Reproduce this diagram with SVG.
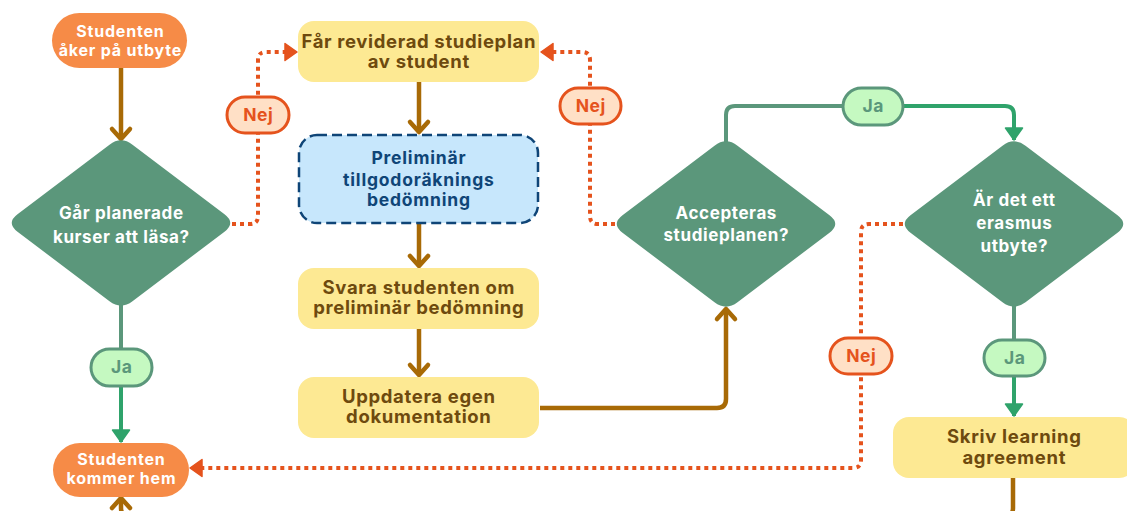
<svg xmlns="http://www.w3.org/2000/svg" width="1127" height="511" viewBox="0 0 1127 511">
<style>
text{font-family:Inter,"Liberation Sans",sans-serif;font-weight:700;text-anchor:middle}
.pill{fill:#F68B47}
.pillt{fill:#fff;font-size:16px;letter-spacing:0.8px}
.dia{fill:#5B977B}
.diat{fill:#fff;font-size:17px;letter-spacing:0.6px}
.box{fill:#FDE993}
.boxt{fill:#6E4A0E;font-size:18.5px;letter-spacing:0.65px}
.blue{fill:#C7E7FC;stroke:#0F4577;stroke-width:2.5;stroke-dasharray:10 5}
.bluet{fill:#0F4577;font-size:17.5px;letter-spacing:0.8px}
.nej{fill:#FFE0C6;stroke:#E5531D;stroke-width:3}
.nejt{fill:#E5531D;font-size:17.5px;letter-spacing:0.5px}
.ja{fill:#C5F9C1;stroke:#5B977B;stroke-width:3}
.jat{fill:#5B977B;font-size:17.5px;letter-spacing:0.5px}
.brown{fill:none;stroke:#A86A06;stroke-width:4.5}
.dot{fill:none;stroke:#E5531D;stroke-width:4;stroke-dasharray:4 4}
.gdark{fill:none;stroke:#5B977B;stroke-width:4}
.gbright{fill:none;stroke:#2FA36B;stroke-width:4}
</style>
<defs>
<marker id="chev" markerUnits="userSpaceOnUse" markerWidth="30" markerHeight="30" viewBox="-15 -15 30 30" refX="0" refY="0" orient="auto">
<path d="M-10,-9 L0,0 L-10,9" fill="none" stroke="#A86A06" stroke-width="4.5" stroke-linecap="round" stroke-linejoin="round"/>
</marker>
<marker id="tri-g" markerUnits="userSpaceOnUse" markerWidth="30" markerHeight="30" viewBox="-15 -15 30 30" refX="0" refY="0" orient="auto">
<path d="M-12,-8.5 L0,0 L-12,8.5 Z" fill="#2FA36B" stroke="#2FA36B" stroke-width="1.5" stroke-linejoin="round"/>
</marker>
<marker id="tri-o" markerUnits="userSpaceOnUse" markerWidth="30" markerHeight="30" viewBox="-15 -15 30 30" refX="0" refY="0" orient="auto">
<path d="M-12,-8.5 L0,0 L-12,8.5 Z" fill="#E5531D" stroke="#E5531D" stroke-width="1.5" stroke-linejoin="round"/>
</marker>
</defs>

<g id="connectors">
<path class="brown" d="M121,68 V139" marker-end="url(#chev)"/>
<path class="dot" d="M232,224 H250 Q258,224 258,216 V60 Q258,52 266,52 H297" marker-end="url(#tri-o)"/>
<path class="brown" d="M419,82 V132" marker-end="url(#chev)"/>
<path class="brown" d="M419,224 V266" marker-end="url(#chev)"/>
<path class="brown" d="M419,329 V375" marker-end="url(#chev)"/>
<path class="brown" d="M540,408 H717 Q726,408 726,399 V309" marker-end="url(#chev)"/>
<path class="dot" d="M615,224 H598 Q590,224 590,216 V60 Q590,52 582,52 H541" marker-end="url(#tri-o)"/>
<path class="gdark" d="M726,142 V115 Q726,106 735,106 H845"/>
<path class="gbright" d="M903,106 H1005 Q1014,106 1014,115 V140" marker-end="url(#tri-g)"/>
<path class="gdark" d="M1014,306 V340"/>
<path class="gbright" d="M1014,375 V416" marker-end="url(#tri-g)"/>
<path class="gdark" d="M121,304 V350"/>
<path class="gbright" d="M121,385 V442" marker-end="url(#tri-g)"/>
<path class="dot" d="M903,224 H869 Q861,224 861,232 V460 Q861,468 853,468 H190" marker-end="url(#tri-o)"/>
<path class="brown" d="M1013,478 V508 Q1013,516 1005,516 H129 Q121,516 121,508 V498" marker-end="url(#chev)"/>
</g>

<g id="start">
<rect class="pill" x="52" y="13" width="135" height="55" rx="27.5"/>
<text class="pillt" x="120.4" y="37">Studenten</text>
<text class="pillt" x="120.4" y="56">åker på utbyte</text>
</g>

<g id="q-kurser">
<path class="dia" d="M109.5,144.7 Q121,136 132.5,144.7 L224.5,214.3 Q236,223 224.5,231.7 L132.5,301.3 Q121,310 109.5,301.3 L17.5,231.7 Q6,223 17.5,214.3 Z"/>
<text class="diat" x="121.3" y="219">Går planerade</text>
<text class="diat" x="121.3" y="243">kurser att läsa?</text>
</g>

<g id="nej1">
<rect class="nej" x="227" y="97" width="62" height="36" rx="18"/>
<text class="nejt" x="258.2" y="121">Nej</text>
</g>

<g id="reviderad">
<rect class="box" x="298" y="21" width="241" height="61" rx="16"/>
<text class="boxt" x="418.8" y="48">Får reviderad studieplan</text>
<text class="boxt" x="418.8" y="68">av student</text>
</g>

<g id="preliminar">
<rect class="blue" x="299" y="135" width="239" height="88" rx="18"/>
<text class="bluet" x="418.9" y="164">Preliminär</text>
<text class="bluet" x="418.9" y="186">tillgodoräknings</text>
<text class="bluet" x="418.9" y="206">bedömning</text>
</g>

<g id="svara">
<rect class="box" x="298" y="268" width="241" height="61" rx="16"/>
<text class="boxt" x="418.8" y="294">Svara studenten om</text>
<text class="boxt" x="418.8" y="314">preliminär bedömning</text>
</g>

<g id="uppdatera">
<rect class="box" x="298" y="377" width="241" height="61" rx="16"/>
<text class="boxt" x="418.8" y="403">Uppdatera egen</text>
<text class="boxt" x="418.8" y="423">dokumentation</text>
</g>

<g id="q-accepteras">
<path class="dia" d="M714.5,145.7 Q726,137 737.5,145.7 L829.5,215.3 Q841,224 829.5,232.7 L737.5,302.3 Q726,311 714.5,302.3 L622.5,232.7 Q611,224 622.5,215.3 Z"/>
<text class="diat" x="726.3" y="219">Accepteras</text>
<text class="diat" x="726.3" y="241">studieplanen?</text>
</g>

<g id="nej2">
<rect class="nej" x="560" y="88" width="61" height="36" rx="18"/>
<text class="nejt" x="590.7" y="112">Nej</text>
</g>

<g id="ja-top">
<rect class="ja" x="843" y="88" width="60" height="37" rx="18.5"/>
<text class="jat" x="873.2" y="112">Ja</text>
</g>

<g id="q-erasmus">
<path class="dia" d="M1002.5,145.7 Q1014,137 1025.5,145.7 L1117.5,215.3 Q1129,224 1117.5,232.7 L1025.5,302.3 Q1014,311 1002.5,302.3 L910.5,232.7 Q899,224 910.5,215.3 Z"/>
<text class="diat" x="1014.3" y="206">Är det ett</text>
<text class="diat" x="1014.3" y="229">erasmus</text>
<text class="diat" x="1014.3" y="252">utbyte?</text>
</g>

<g id="nej3">
<rect class="nej" x="830" y="338" width="62" height="36" rx="18"/>
<text class="nejt" x="861.2" y="362">Nej</text>
</g>

<g id="ja-right">
<rect class="ja" x="984" y="340" width="61" height="36" rx="18"/>
<text class="jat" x="1014.7" y="364">Ja</text>
</g>

<g id="skriv">
<rect class="box" x="893" y="417" width="242" height="61" rx="16"/>
<text class="boxt" x="1014.3" y="443">Skriv learning</text>
<text class="boxt" x="1014.3" y="464">agreement</text>
</g>

<g id="ja-left">
<rect class="ja" x="91" y="349" width="61" height="37" rx="18.5"/>
<text class="jat" x="121.7" y="373">Ja</text>
</g>

<g id="end">
<rect class="pill" x="53" y="443" width="136" height="54" rx="27"/>
<text class="pillt" x="121.4" y="465">Studenten</text>
<text class="pillt" x="121.4" y="484">kommer hem</text>
</g>
</svg>
